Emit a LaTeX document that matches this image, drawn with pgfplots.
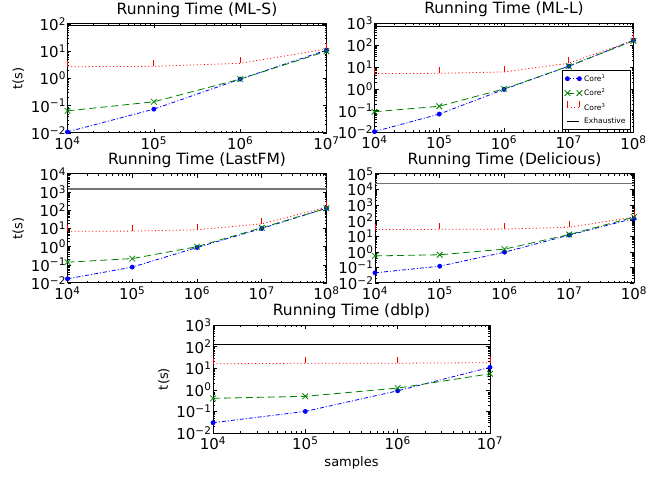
\documentclass[border=0pt]{standalone}
\usepackage{fontspec}
\setmainfont{DejaVu Sans}
\usepackage{pgfplots}
\pgfplotsset{compat=1.18}
\usepackage{pgfplotstable}

\definecolor{cA}{rgb}{0,0,1}
\definecolor{cB}{rgb}{0,0.5,0}
\definecolor{cC}{rgb}{1,0,0}

\pgfdeclareplotmark{tickup}{%
  \pgfpathmoveto{\pgfpointorigin}%
  \pgfpathlineto{\pgfpoint{0pt}{6pt}}%
  \pgfusepathqstroke}

% ML-S
\pgfplotstableread{
x c1 c2 c3 ex
1e4 0.011 0.065 2.7 90
1e5 0.075 0.14 2.8 90
1e6 0.95 0.95 3.6 90
1e7 11 10 12 90
}\dataA
% ML-L
\pgfplotstableread{
x c1 c2 c3 ex
1e4 0.011 0.09 5.0 750
1e5 0.07 0.16 5.2 750
1e6 0.95 1.0 6.0 750
1e7 11 11 15 750
1e8 170 160 170 750
}\dataB
% LastFM
\pgfplotstableread{
x c1 c2 c3 ex
1e4 0.017 0.14 7.0 1500
1e5 0.075 0.22 7.2 1500
1e6 0.9 1.0 8.5 1500
1e7 10 11 18 1500
1e8 130 130 150 1500
}\dataC
% Delicious
\pgfplotstableread{
x c1 c2 c3 ex
1e4 0.045 0.55 27 24000
1e5 0.12 0.65 28 24000
1e6 0.95 1.5 29 24000
1e7 12 13 38 24000
1e8 140 170 170 24000
}\dataD
% dblp
\pgfplotstableread{
x c1 c2 c3 ex
1e4 0.03 0.4 16 120
1e5 0.1 0.5 17 120
1e6 0.9 1.2 17 120
1e7 11 5.5 18 120
}\dataE

\tikzset{
  sA/.style={cA, line width=0.8pt, dash pattern=on 4pt off 2pt on 1pt off 2pt, mark=*, mark size=2pt, mark options={solid, fill=cA, draw=cA}},
  sB/.style={cB, line width=0.8pt, dash pattern=on 7pt off 4pt, mark=x, mark size=4pt, mark options={solid, line width=0.8pt}},
  sC/.style={cC, line width=0.8pt, dash pattern=on 1pt off 2.5pt, mark=tickup, mark options={solid, line width=0.8pt}},
  sD/.style={black, line width=1pt},
}

\pgfplotsset{
  every axis/.append style={
    scale only axis, anchor=south west,
    axis line style={line width=1pt},
    tick style={black, line width=0.6pt},
    major tick length=4pt, minor tick length=2pt,
    tick align=inside,
    title style={font=\fontsize{15.5}{18}\selectfont, yshift=-3pt},
    tick label style={font=\fontsize{15}{17}\selectfont},
    yticklabel style={xshift=2pt},
    label style={font=\fontsize{13}{15}\selectfont},
  },
}

\begin{document}
\begin{tikzpicture}
\useasboundingbox (0,0) rectangle (656pt,477pt);

% Panel 1: ML-S
\begin{axis}[xmode=log, ymode=log, width=259pt, height=109pt, at={(67.5pt,344pt)},
  xmin=1e4, xmax=1e7, ymin=1e-2, ymax=1e2,
  xtick={1e4,1e5,1e6,1e7},
  xticklabels={10\textsuperscript{4},10\textsuperscript{5},10\textsuperscript{6},10\textsuperscript{7}},
  minor xtick={2e4,3e4,4e4,5e4,6e4,7e4,8e4,9e4,2e5,3e5,4e5,5e5,6e5,7e5,8e5,9e5,2e6,3e6,4e6,5e6,6e6,7e6,8e6,9e6},
  ytick={1e-2,1e-1,1,10,100},
  yticklabels={10\textsuperscript{−2},10\textsuperscript{−1},10\textsuperscript{0},10\textsuperscript{1},10\textsuperscript{2}},
  minor ytick={0.02,0.03,0.04,0.05,0.06,0.07,0.08,0.09,0.2,0.3,0.4,0.5,0.6,0.7,0.8,0.9,2,3,4,5,6,7,8,9,20,30,40,50,60,70,80,90},
  title={Running Time (ML-S)}, ylabel={t(s)}]
\addplot[sA] table[x=x,y=c1] {\dataA};
\addplot[sB] table[x=x,y=c2] {\dataA};
\addplot[sC] table[x=x,y=c3] {\dataA};
\addplot[sD] table[x=x,y=ex] {\dataA};
\end{axis}

% Panel 2: ML-L
\begin{axis}[xmode=log, ymode=log, width=259pt, height=109pt, at={(374.5pt,344.5pt)},
  xmin=1e4, xmax=1e8, ymin=1e-2, ymax=1e3,
  xtick={1e4,1e5,1e6,1e7,1e8},
  xticklabels={10\textsuperscript{4},10\textsuperscript{5},10\textsuperscript{6},10\textsuperscript{7},10\textsuperscript{8}},
  minor xtick={2e4,3e4,4e4,5e4,6e4,7e4,8e4,9e4,2e5,3e5,4e5,5e5,6e5,7e5,8e5,9e5,2e6,3e6,4e6,5e6,6e6,7e6,8e6,9e6,2e7,3e7,4e7,5e7,6e7,7e7,8e7,9e7},
  ytick={1e-2,1e-1,1,10,100,1000},
  yticklabels={10\textsuperscript{−2},10\textsuperscript{−1},10\textsuperscript{0},10\textsuperscript{1},10\textsuperscript{2},10\textsuperscript{3}},
  minor ytick={0.02,0.03,0.04,0.05,0.06,0.07,0.08,0.09,0.2,0.3,0.4,0.5,0.6,0.7,0.8,0.9,2,3,4,5,6,7,8,9,20,30,40,50,60,70,80,90,200,300,400,500,600,700,800,900},
  title={Running Time (ML-L)},
  legend cell align=left,
  legend image code/.code={\draw plot coordinates {(0pt,0pt) (12pt,0pt)};},
  legend style={at={(rel axis cs:0.988,0.025)}, anchor=south east,
    font=\fontsize{7.5}{9}\selectfont, draw=black, line width=0.8pt,
    row sep=2pt, inner sep=2.5pt}]
\addplot[sA] table[x=x,y=c1] {\dataB};
\addlegendentry{Core\textsuperscript{1}}
\addplot[sB] table[x=x,y=c2] {\dataB};
\addlegendentry{Core\textsuperscript{2}}
\addplot[sC] table[x=x,y=c3] {\dataB};
\addlegendentry{Core\textsuperscript{3}}
\addplot[sD] table[x=x,y=ex] {\dataB};
\addlegendentry{Exhaustive}
\end{axis}

% Panel 3: LastFM
\begin{axis}[xmode=log, ymode=log, width=259pt, height=109pt, at={(67.5pt,194pt)},
  xmin=1e4, xmax=1e8, ymin=1e-2, ymax=1e4,
  xtick={1e4,1e5,1e6,1e7,1e8},
  xticklabels={10\textsuperscript{4},10\textsuperscript{5},10\textsuperscript{6},10\textsuperscript{7},10\textsuperscript{8}},
  minor xtick={2e4,3e4,4e4,5e4,6e4,7e4,8e4,9e4,2e5,3e5,4e5,5e5,6e5,7e5,8e5,9e5,2e6,3e6,4e6,5e6,6e6,7e6,8e6,9e6,2e7,3e7,4e7,5e7,6e7,7e7,8e7,9e7},
  ytick={1e-2,1e-1,1,10,100,1000,10000},
  yticklabels={10\textsuperscript{−2},10\textsuperscript{−1},10\textsuperscript{0},10\textsuperscript{1},10\textsuperscript{2},10\textsuperscript{3},10\textsuperscript{4}},
  minor ytick={0.02,0.03,0.04,0.05,0.06,0.07,0.08,0.09,0.2,0.3,0.4,0.5,0.6,0.7,0.8,0.9,2,3,4,5,6,7,8,9,20,30,40,50,60,70,80,90,200,300,400,500,600,700,800,900,2000,3000,4000,5000,6000,7000,8000,9000},
  title={Running Time (LastFM)}, ylabel={t(s)}]
\addplot[sA] table[x=x,y=c1] {\dataC};
\addplot[sB] table[x=x,y=c2] {\dataC};
\addplot[sC] table[x=x,y=c3] {\dataC};
\addplot[sD, black!55, line width=1.5pt] table[x=x,y=ex] {\dataC};
\end{axis}

% Panel 4: Delicious
\begin{axis}[xmode=log, ymode=log, width=259pt, height=109pt, at={(375pt,194pt)},
  xmin=1e4, xmax=1e8, ymin=1e-2, ymax=1e5,
  xtick={1e4,1e5,1e6,1e7,1e8},
  xticklabels={10\textsuperscript{4},10\textsuperscript{5},10\textsuperscript{6},10\textsuperscript{7},10\textsuperscript{8}},
  minor xtick={2e4,3e4,4e4,5e4,6e4,7e4,8e4,9e4,2e5,3e5,4e5,5e5,6e5,7e5,8e5,9e5,2e6,3e6,4e6,5e6,6e6,7e6,8e6,9e6,2e7,3e7,4e7,5e7,6e7,7e7,8e7,9e7},
  ytick={1e-2,1e-1,1,10,100,1000,10000,100000},
  yticklabels={10\textsuperscript{−2},10\textsuperscript{−1},10\textsuperscript{0},10\textsuperscript{1},10\textsuperscript{2},10\textsuperscript{3},10\textsuperscript{4},10\textsuperscript{5}},
  minor ytick={0.02,0.03,0.04,0.05,0.06,0.07,0.08,0.09,0.2,0.3,0.4,0.5,0.6,0.7,0.8,0.9,2,3,4,5,6,7,8,9,20,30,40,50,60,70,80,90,200,300,400,500,600,700,800,900,2000,3000,4000,5000,6000,7000,8000,9000,20000,30000,40000,50000,60000,70000,80000,90000},
  title={Running Time (Delicious)}]
\addplot[sA] table[x=x,y=c1] {\dataD};
\addplot[sB] table[x=x,y=c2] {\dataD};
\addplot[sC] table[x=x,y=c3] {\dataD};
\addplot[sD, black!55, line width=1.5pt] table[x=x,y=ex] {\dataD};
\end{axis}

% Panel 5: dblp
\begin{axis}[xmode=log, ymode=log, width=277pt, height=108pt, at={(213pt,44pt)},
  xmin=1e4, xmax=1e7, ymin=1e-2, ymax=1e3,
  xtick={1e4,1e5,1e6,1e7},
  xticklabels={10\textsuperscript{4},10\textsuperscript{5},10\textsuperscript{6},10\textsuperscript{7}},
  minor xtick={2e4,3e4,4e4,5e4,6e4,7e4,8e4,9e4,2e5,3e5,4e5,5e5,6e5,7e5,8e5,9e5,2e6,3e6,4e6,5e6,6e6,7e6,8e6,9e6},
  ytick={1e-2,1e-1,1,10,100,1000},
  yticklabels={10\textsuperscript{−2},10\textsuperscript{−1},10\textsuperscript{0},10\textsuperscript{1},10\textsuperscript{2},10\textsuperscript{3}},
  minor ytick={0.02,0.03,0.04,0.05,0.06,0.07,0.08,0.09,0.2,0.3,0.4,0.5,0.6,0.7,0.8,0.9,2,3,4,5,6,7,8,9,20,30,40,50,60,70,80,90,200,300,400,500,600,700,800,900},
  title={Running Time (dblp)}, ylabel={t(s)}, xlabel={samples}]
\addplot[sA] table[x=x,y=c1] {\dataE};
\addplot[sB] table[x=x,y=c2] {\dataE};
\addplot[sC] table[x=x,y=c3] {\dataE};
\addplot[sD] table[x=x,y=ex] {\dataE};
\end{axis}
\end{tikzpicture}
\end{document}
